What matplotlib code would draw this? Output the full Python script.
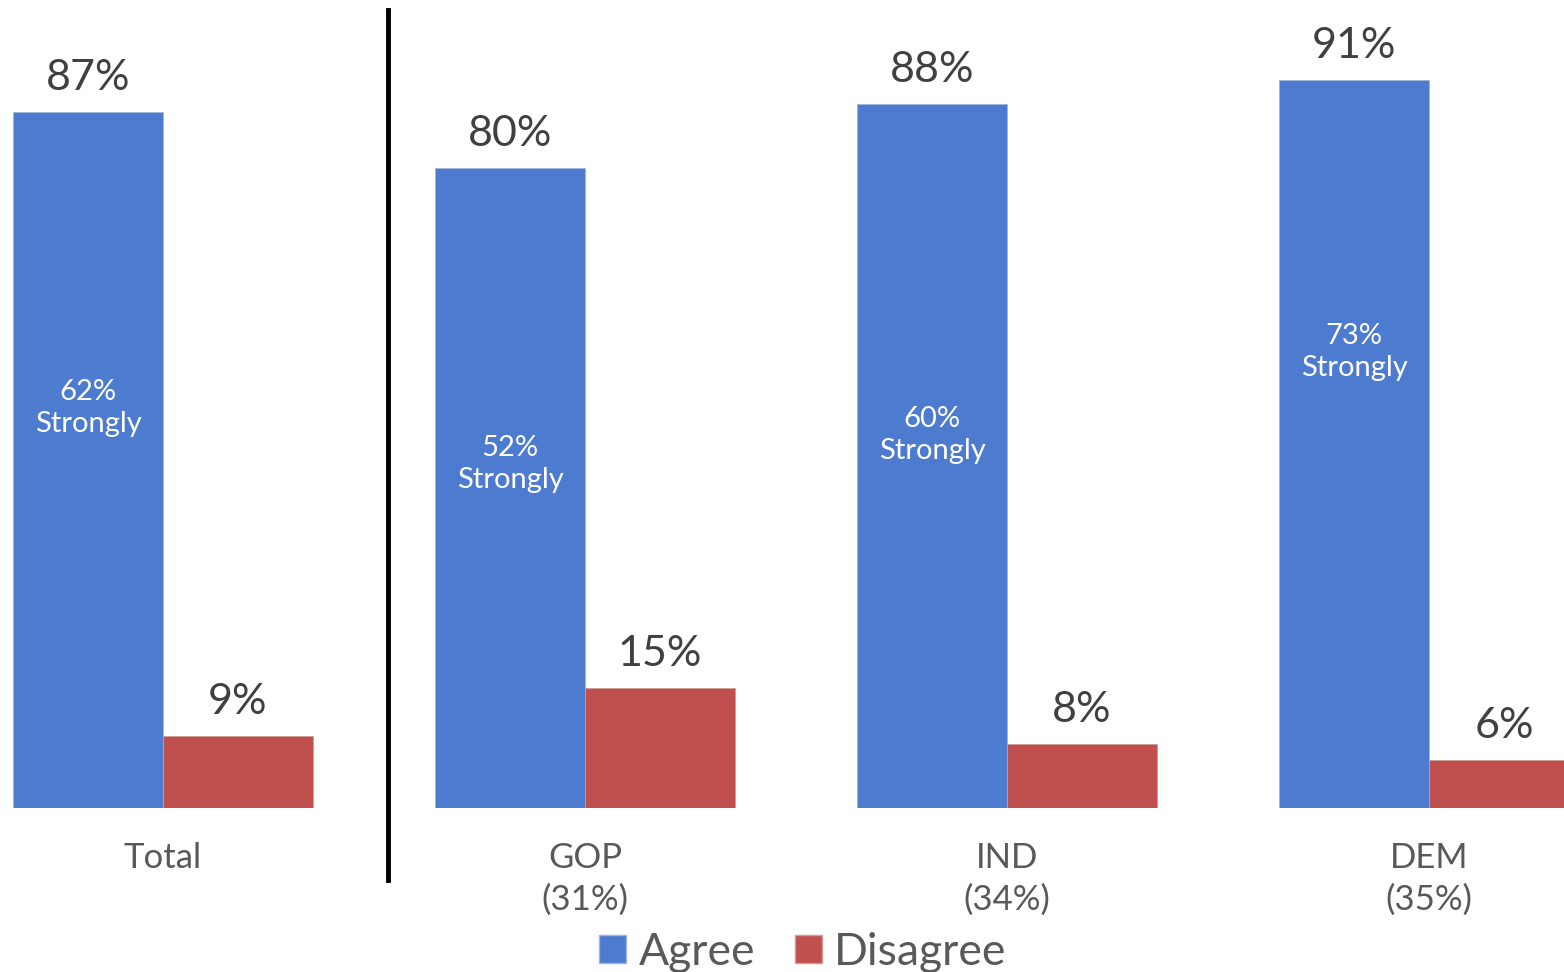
import matplotlib
matplotlib.use("Agg")
import matplotlib.pyplot as plt
from matplotlib.lines import Line2D
from matplotlib.patches import Patch

categories = ["Total", "GOP\n(31%)", "IND\n(34%)", "DEM\n(35%)"]
agree = [87, 80, 88, 91]
disagree = [9, 15, 8, 6]
strongly = [62, 52, 60, 73]
strongly_label_y = [50, 43, 46.6, 57]

BLUE = "#4C7BD0"
RED = "#C0504D"
plt.rcParams["font.family"] = ["Lato", "DejaVu Sans"]

W, H = 1564, 972
fig = plt.figure(figsize=(W / 100, H / 100), dpi=100)
spacing = 422.0
bw = 150 / spacing
c0 = 163.0
ax = fig.add_axes([0, (H - 808) / H, 1, 800 / H])
ax.set_xlim((0 - c0) / spacing, (W - c0) / spacing)
ax.set_ylim(0, 100)

x = list(range(len(categories)))
ax.bar([i - bw / 2 for i in x], agree, width=bw, color=BLUE, edgecolor="#9fb4d8", linewidth=0.6)
ax.bar([i + bw / 2 for i in x], disagree, width=bw, color=RED, edgecolor="#d09a98", linewidth=0.6)

for i in x:
    ax.text(i - bw / 2, agree[i] + 2.7, f"{agree[i]}%", ha="center", va="baseline",
            fontsize=31, color="#404040")
    ax.text(i + bw / 2, disagree[i] + 2.7, f"{disagree[i]}%", ha="center", va="baseline",
            fontsize=31, color="#404040")
    ax.text(i - bw / 2, strongly_label_y[i], f"{strongly[i]}%\nStrongly", ha="center",
            va="center", fontsize=21, color="white", linespacing=1.3)
    for k, line in enumerate(categories[i].split("\n")):
        ax.text(i, -7.5 - 5.25 * k, line, ha="center", va="baseline", fontsize=25,
                color="#595959")

for s in ax.spines.values():
    s.set_visible(False)
ax.set_xticks([])
ax.set_yticks([])

fig.add_artist(Line2D([388 / W, 388 / W], [1 - 10 / H, 1 - 880 / H], color="black", linewidth=3.5))

handles = [Patch(facecolor=BLUE, edgecolor="#9fb4d8", label="Agree"),
           Patch(facecolor=RED, edgecolor="#d09a98", label="Disagree")]
fig.legend(handles=handles, loc="center", bbox_to_anchor=(803 / W, 1 - 952 / H), ncol=2,
           frameon=False, fontsize=32, handlelength=0.6, handleheight=0.6,
           handletextpad=0.28, columnspacing=0.9, labelcolor="#595959",
           borderpad=0, borderaxespad=0)

fig.savefig("out.png", dpi=100)
